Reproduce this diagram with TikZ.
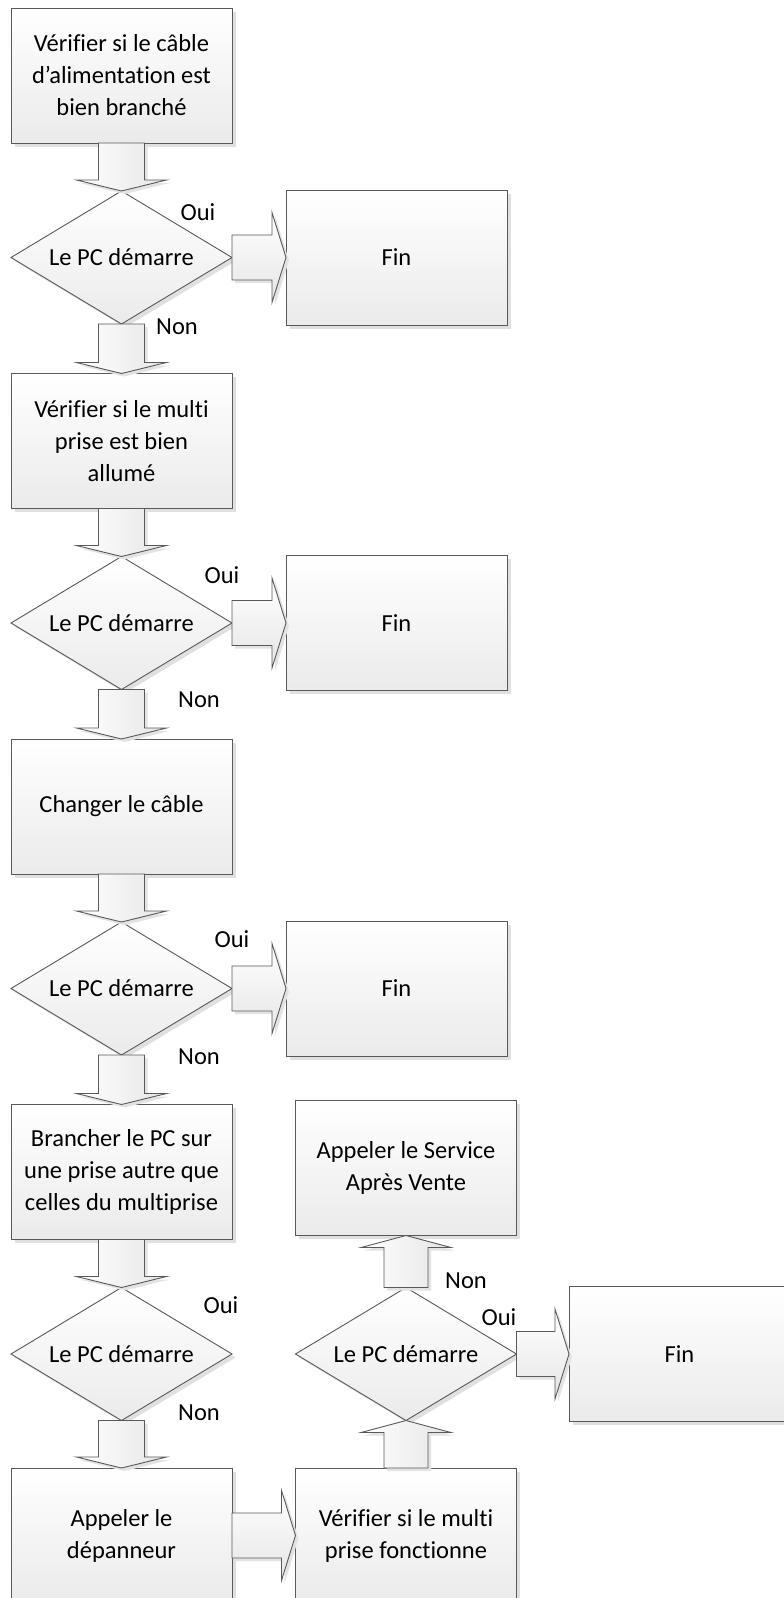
\documentclass[tikz,border=0pt]{standalone}
\usepackage{fontspec}
\setmainfont{Carlito}[Ligatures=NoCommon]
\usetikzlibrary{shapes.geometric,shadows,calc}
\tikzset{
  txt/.style={font=\fontsize{24.5}{32}\selectfont},
  base/.style={txt, draw=black!65, line width=0.9pt, outer sep=0pt, inner sep=0pt, align=center,
    top color=white, bottom color=black!8,
    drop shadow={shadow xshift=3.5pt,shadow yshift=-3.5pt,fill=black!12,opacity=1}},
  stepbox/.style={base, rectangle, minimum width=221pt, minimum height=135pt},
  decision/.style={base, diamond, aspect=1.66, minimum width=221pt, minimum height=133pt},
  lbl/.style={txt, inner sep=0pt},
  varrow/.style={draw=black!65, line width=0.9pt, left color=white, right color=black!10,
    drop shadow={shadow xshift=3pt,shadow yshift=-3pt,fill=black!11,opacity=1}},
  harrow/.style={draw=black!65, line width=0.9pt, top color=white, bottom color=black!10,
    drop shadow={shadow xshift=3pt,shadow yshift=-3pt,fill=black!11,opacity=1}}
}
% block arrow pointing down from #1.south to #2.north
\newcommand{\arrdown}[2]{%
  \path[varrow] let \p1=(#1.south), \p2=(#2.north) in
    (\x1-23pt,\y1) -- (\x1+23pt,\y1) -- (\x1+23pt,\y2+11pt) -- (\x1+45pt,\y2+11pt)
    -- (\x2,\y2) -- (\x1-45pt,\y2+11pt) -- (\x1-23pt,\y2+11pt) -- cycle;}
% block arrow pointing up from #1.north to #2.south
\newcommand{\arrup}[2]{%
  \path[varrow] let \p1=(#1.north), \p2=(#2.south) in
    (\x1-22pt,\y1) -- (\x1+22pt,\y1) -- (\x1+22pt,\y2-12pt) -- (\x1+45pt,\y2-12pt)
    -- (\x2,\y2) -- (\x1-45pt,\y2-12pt) -- (\x1-22pt,\y2-12pt) -- cycle;}
% block arrow pointing right from #1.east to #2.west
\newcommand{\arrright}[2]{%
  \path[harrow] let \p1=(#1.east), \p2=(#2.west) in
    (\x1,\y1+22.5pt) -- (\x2-14pt,\y1+22.5pt) -- (\x2-14pt,\y1+45pt) -- (\x2,\y1)
    -- (\x2-14pt,\y1-45pt) -- (\x2-14pt,\y1-22.5pt) -- (\x1,\y1-22.5pt) -- cycle;}
\begin{document}
\begin{tikzpicture}[x=1pt,y=1pt]
\useasboundingbox[fill=white] (0,0) rectangle (784,-1598);
% left column
\node[stepbox] (b1) at (121.5,-75.5) {Vérifier si le câble\\d’alimentation est\\bien branché};
\node[decision] (d1) at (121.5,-257.5) {Le PC démarre};
\node[stepbox] (f1) at (396.5,-257.5) {Fin};
\node[stepbox] (b2) at (121.5,-441) {Vérifier si le multi\\prise est bien\\allumé};
\node[decision] (d2) at (121.5,-623) {Le PC démarre};
\node[stepbox] (f2) at (396.5,-623) {Fin};
\node[stepbox] (b3) at (121.5,-806.5) {Changer le câble};
\node[decision] (d3) at (121.5,-988.5) {Le PC démarre};
\node[stepbox] (f3) at (396.5,-988.5) {Fin};
\node[stepbox] (b4) at (121.5,-1172) {Brancher le PC sur\\une prise autre que\\celles du multiprise};
\node[decision] (d4) at (121.5,-1354) {Le PC démarre};
\node[stepbox] (b5) at (121.5,-1535.5) {Appeler le\\dépanneur};
% right column
\node[stepbox] (b6) at (406,-1535.5) {Vérifier si le multi\\prise fonctionne};
\node[decision] (d5) at (406,-1354) {Le PC démarre};
\node[stepbox] (b7) at (406,-1168) {Appeler le Service\\Après Vente};
\node[stepbox] (f5) at (679.5,-1354) {Fin};
% connectors
\arrdown{b1}{d1}
\arrright{d1}{f1}
\arrdown{d1}{b2}
\arrdown{b2}{d2}
\arrright{d2}{f2}
\arrdown{d2}{b3}
\arrdown{b3}{d3}
\arrright{d3}{f3}
\arrdown{d3}{b4}
\arrdown{b4}{d4}
\arrdown{d4}{b5}
\arrright{b5}{b6}
\arrup{b6}{d5}
\arrup{d5}{b7}
\arrright{d5}{f5}
% labels
\node[lbl] (o1) at (198,-212) {Oui};
\node[lbl] (n1) at (177,-327) {Non};
\node[lbl] (o2) at (222,-575) {Oui};
\node[lbl] (n2) at (199,-700) {Non};
\node[lbl] (o3) at (232,-939) {Oui};
\node[lbl] (n3) at (199,-1057) {Non};
\node[lbl] (o4) at (221,-1305) {Oui};
\node[lbl] (n4) at (199,-1413) {Non};
\node[lbl] (n5) at (466,-1281) {Non};
\node[lbl] (o5) at (499,-1317) {Oui};
\end{tikzpicture}
\end{document}
